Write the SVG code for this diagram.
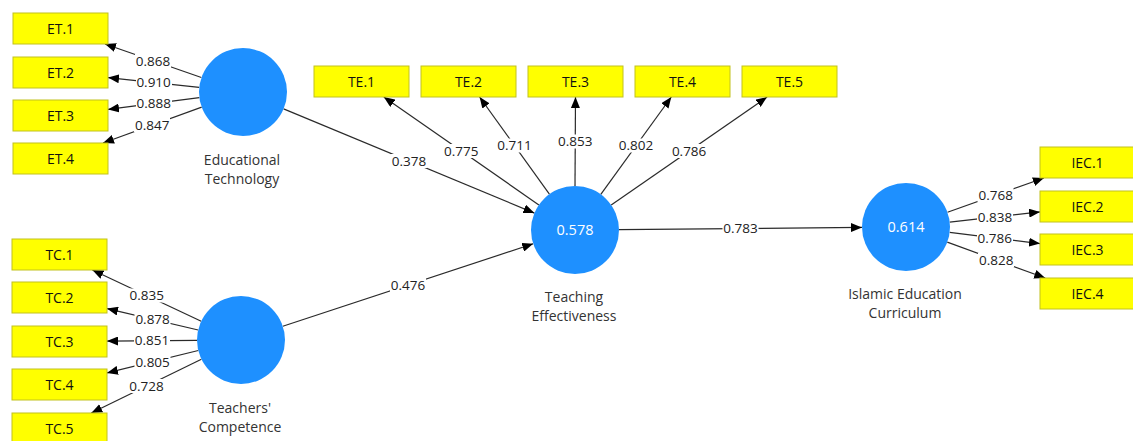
<svg xmlns="http://www.w3.org/2000/svg" width="1133" height="441" viewBox="0 0 1133 441">
<style>
.box{fill:#ffff00;stroke:#c2c21e;stroke-width:1}
.bt{font-family:"Open Sans","Liberation Sans",sans-serif;font-size:14px;fill:#111;text-anchor:middle}
.lv{fill:#1e90ff}
.lt{font-family:"Open Sans","Liberation Sans",sans-serif;font-size:14px;fill:#333;text-anchor:middle}
.ct{font-family:"Open Sans","Liberation Sans",sans-serif;font-size:14.5px;fill:#fff;text-anchor:middle}
.ed{stroke:#2a2a2a;stroke-width:1.2;fill:none;marker-end:url(#ah)}
.lb{fill:#fff}
.vt{font-family:"Open Sans","Liberation Sans",sans-serif;font-size:13.5px;fill:#222;text-anchor:middle}
</style>
<defs>
<marker id="ah" markerUnits="userSpaceOnUse" markerWidth="11" markerHeight="9" refX="11" refY="4.5" orient="auto">
<path d="M0,0 L11,4.5 L0,9 z" fill="#000"/>
</marker>
</defs>
<rect width="1133" height="441" fill="#fff"/>
<g id="connectors">
<line class="ed" x1="201.4" y1="77.5" x2="105" y2="44"/>
<line class="ed" x1="199.2" y1="87.3" x2="108" y2="77.6"/>
<line class="ed" x1="199.4" y1="97.6" x2="108" y2="109.4"/>
<line class="ed" x1="201.7" y1="107.1" x2="103" y2="143"/>
<line class="ed" x1="201.2" y1="321.2" x2="92.4" y2="270"/>
<line class="ed" x1="198.2" y1="330" x2="107" y2="308.6"/>
<line class="ed" x1="197" y1="340.4" x2="107" y2="341.1"/>
<line class="ed" x1="198.3" y1="350.5" x2="107" y2="372.9"/>
<line class="ed" x1="201.4" y1="359.3" x2="91.3" y2="413"/>
<line class="ed" x1="538.9" y1="204.9" x2="383.8" y2="97"/>
<line class="ed" x1="549.4" y1="194.2" x2="479.6" y2="97"/>
<line class="ed" x1="575" y1="186" x2="575.5" y2="97"/>
<line class="ed" x1="600.8" y1="194.4" x2="671.3" y2="97"/>
<line class="ed" x1="611.2" y1="205" x2="767.1" y2="97"/>
<line class="ed" x1="947.5" y1="212.3" x2="1043.9" y2="178"/>
<line class="ed" x1="949.7" y1="222.1" x2="1040" y2="211.9"/>
<line class="ed" x1="949.7" y1="232.4" x2="1040" y2="243.6"/>
<line class="ed" x1="947.3" y1="242.1" x2="1045.2" y2="278"/>
<line class="ed" x1="283.6" y1="108.9" x2="534.4" y2="213.1"/>
<line class="ed" x1="282.8" y1="326.2" x2="533.2" y2="243.8"/>
<line class="ed" x1="619" y1="229.6" x2="862" y2="227.4"/>
<g id="edge-labels">
<rect class="lb" x="135" y="54" width="36" height="14"/><text class="vt" x="153" y="65.5">0.868</text>
<rect class="lb" x="136" y="75.5" width="36" height="14"/><text class="vt" x="153.6" y="87">0.910</text>
<rect class="lb" x="136" y="96.5" width="36" height="14"/><text class="vt" x="153.7" y="108">0.888</text>
<rect class="lb" x="134" y="118" width="36" height="14"/><text class="vt" x="152.3" y="129.5">0.847</text>
<rect class="lb" x="129" y="288.5" width="36" height="14"/><text class="vt" x="146.8" y="300">0.835</text>
<rect class="lb" x="134.5" y="312.5" width="36" height="14"/><text class="vt" x="152.6" y="324">0.878</text>
<rect class="lb" x="134" y="333.5" width="36" height="14"/><text class="vt" x="152" y="345">0.851</text>
<rect class="lb" x="134.5" y="355" width="36" height="14"/><text class="vt" x="152.6" y="366.5">0.805</text>
<rect class="lb" x="128.5" y="379" width="36" height="14"/><text class="vt" x="146.4" y="390.5">0.728</text>
<rect class="lb" x="443" y="144" width="36" height="14"/><text class="vt" x="461.3" y="155.5">0.775</text>
<rect class="lb" x="496.5" y="138.5" width="36" height="14"/><text class="vt" x="514.5" y="150">0.711</text>
<rect class="lb" x="557" y="134.5" width="36" height="14"/><text class="vt" x="575.2" y="146">0.853</text>
<rect class="lb" x="618" y="138.5" width="36" height="14"/><text class="vt" x="636" y="150">0.802</text>
<rect class="lb" x="671" y="144" width="36" height="14"/><text class="vt" x="689.1" y="155.5">0.786</text>
<rect class="lb" x="977.5" y="188" width="36" height="14"/><text class="vt" x="995.7" y="199.5">0.768</text>
<rect class="lb" x="977" y="210" width="36" height="14"/><text class="vt" x="994.9" y="221.5">0.838</text>
<rect class="lb" x="977" y="231" width="36" height="14"/><text class="vt" x="994.8" y="242.5">0.786</text>
<rect class="lb" x="978" y="253" width="36" height="14"/><text class="vt" x="996.3" y="264.5">0.828</text>
<rect class="lb" x="391" y="154" width="36" height="14"/><text class="vt" x="409" y="165.5">0.378</text>
<rect class="lb" x="390" y="278" width="36" height="14"/><text class="vt" x="408" y="289.5">0.476</text>
<rect class="lb" x="722.5" y="221.5" width="36" height="14"/><text class="vt" x="740.5" y="233">0.783</text>
</g>
</g>
<g id="ET">
<circle class="lv" cx="243" cy="92" r="44"/>
<text class="lt" x="242" y="164.5">Educational</text>
<text class="lt" x="242" y="184">Technology</text>
</g>
<g id="TC">
<circle class="lv" cx="241" cy="340" r="44"/>
<text class="lt" x="240" y="412.5">Teachers'</text>
<text class="lt" x="240" y="431.5">Competence</text>
</g>
<g id="TE">
<circle class="lv" cx="575" cy="230" r="44"/>
<text class="ct" x="575" y="235">0.578</text>
<text class="lt" x="574" y="301.5">Teaching</text>
<text class="lt" x="574" y="321">Effectiveness</text>
</g>
<g id="IEC">
<circle class="lv" cx="906" cy="227" r="44"/>
<text class="ct" x="906" y="232">0.614</text>
<text class="lt" x="905" y="298.5">Islamic Education</text>
<text class="lt" x="905" y="318">Curriculum</text>
</g>
<g id="ET1"><rect class="box" x="13" y="13" width="95" height="31"/><text class="bt" x="60.5" y="33.5">ET.1</text></g>
<g id="ET2"><rect class="box" x="13" y="57" width="95" height="31"/><text class="bt" x="60.5" y="77.5">ET.2</text></g>
<g id="ET3"><rect class="box" x="13" y="100" width="95" height="31"/><text class="bt" x="60.5" y="120.5">ET.3</text></g>
<g id="ET4"><rect class="box" x="13" y="143" width="95" height="31"/><text class="bt" x="60.5" y="163.5">ET.4</text></g>
<g id="TC1"><rect class="box" x="12" y="239" width="95" height="31"/><text class="bt" x="59.5" y="259.5">TC.1</text></g>
<g id="TC2"><rect class="box" x="12" y="282" width="95" height="31"/><text class="bt" x="59.5" y="302.5">TC.2</text></g>
<g id="TC3"><rect class="box" x="12" y="326" width="95" height="31"/><text class="bt" x="59.5" y="346.5">TC.3</text></g>
<g id="TC4"><rect class="box" x="12" y="369" width="95" height="31"/><text class="bt" x="59.5" y="389.5">TC.4</text></g>
<g id="TC5"><rect class="box" x="12" y="413" width="95" height="31"/><text class="bt" x="59.5" y="433.5">TC.5</text></g>
<g id="TE1"><rect class="box" x="314" y="66" width="95" height="31"/><text class="bt" x="361.5" y="86.5">TE.1</text></g>
<g id="TE2"><rect class="box" x="421" y="66" width="95" height="31"/><text class="bt" x="468.5" y="86.5">TE.2</text></g>
<g id="TE3"><rect class="box" x="528" y="66" width="95" height="31"/><text class="bt" x="575.5" y="86.5">TE.3</text></g>
<g id="TE4"><rect class="box" x="635" y="66" width="95" height="31"/><text class="bt" x="682.5" y="86.5">TE.4</text></g>
<g id="TE5"><rect class="box" x="742" y="66" width="95" height="31"/><text class="bt" x="789.5" y="86.5">TE.5</text></g>
<g id="IEC1"><rect class="box" x="1040" y="147" width="95" height="31"/><text class="bt" x="1087.5" y="167.5">IEC.1</text></g>
<g id="IEC2"><rect class="box" x="1040" y="191" width="95" height="31"/><text class="bt" x="1087.5" y="211.5">IEC.2</text></g>
<g id="IEC3"><rect class="box" x="1040" y="234" width="95" height="31"/><text class="bt" x="1087.5" y="254.5">IEC.3</text></g>
<g id="IEC4"><rect class="box" x="1040" y="278" width="95" height="31"/><text class="bt" x="1087.5" y="298.5">IEC.4</text></g>
</svg>
